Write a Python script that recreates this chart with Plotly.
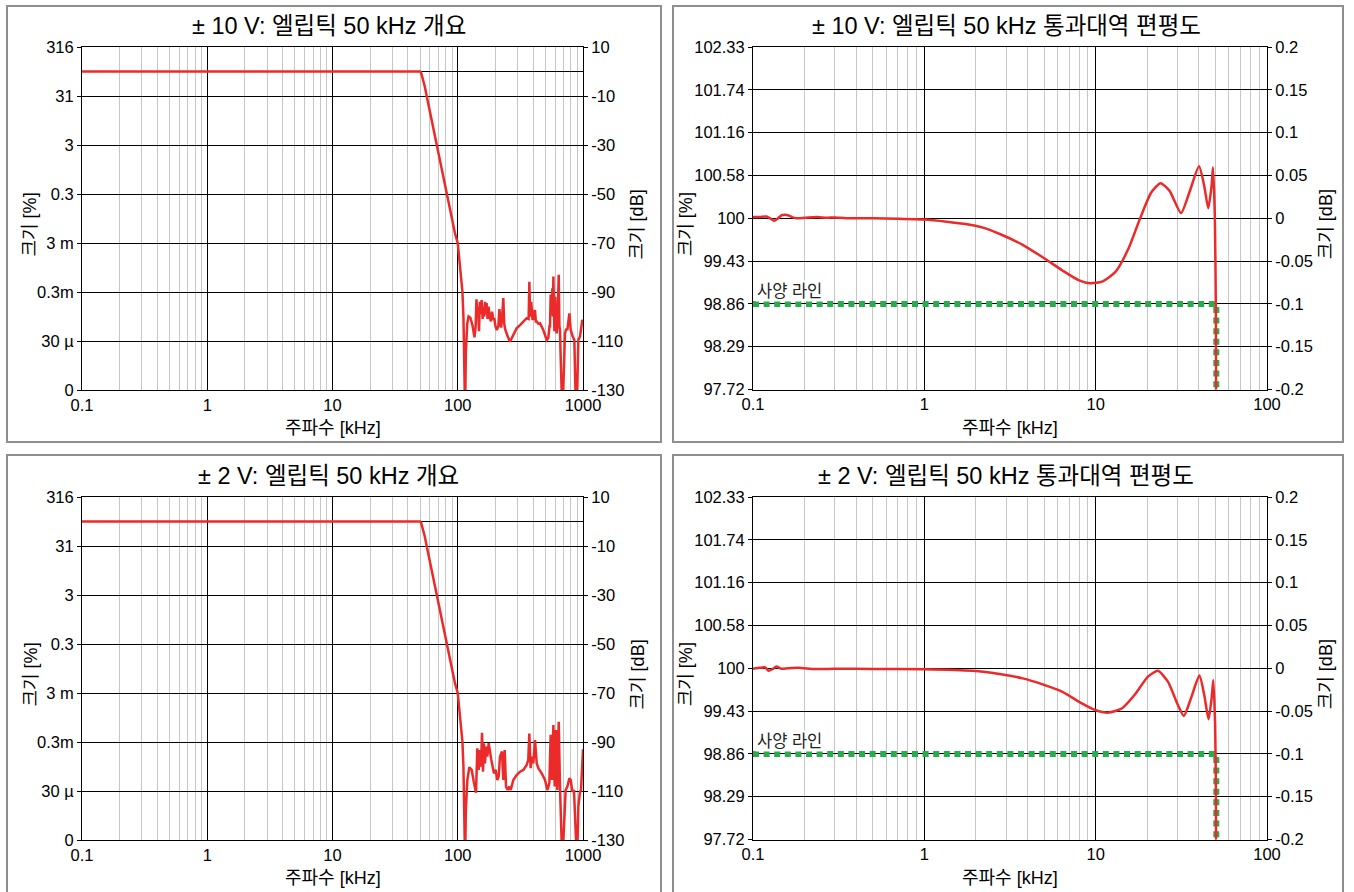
import math
import plotly.graph_objects as go

W, H = 1354, 892

# ---------------- data ----------------
ov_titles = ["± 10 V: 엘립틱 50 kHz 개요", "± 2 V: 엘립틱 50 kHz 개요"]
pb_titles = ["± 10 V: 엘립틱 50 kHz 통과대역 편평도", "± 2 V: 엘립틱 50 kHz 통과대역 편평도"]
x_title = "주파수 [kHz]"
y_left_title = "크기 [%]"
y_right_title = "크기 [dB]"
spec_label = "사양 라인"

ov_db_ticks = [10, -10, -30, -50, -70, -90, -110, -130]
ov_db_labels = ["10", "-10", "-30", "-50", "-70", "-90", "-110", "-130"]
ov_pct_labels = ["316", "31", "3", "0.3", "3 m", "0.3m", "30 µ", "0"]
ov_x_ticks = [0.1, 1, 10, 100, 1000]
ov_x_labels = ["0.1", "1", "10", "100", "1000"]

pb_db_ticks = [-0.2, -0.15, -0.1, -0.05, 0, 0.05, 0.1, 0.15, 0.2]
pb_db_labels = ["-0.2", "-0.15", "-0.1", "-0.05", "0", "0.05", "0.1", "0.15", "0.2"]
pb_pct_labels = ["97.72", "98.29", "98.86", "99.43", "100", "100.58", "101.16", "101.74", "102.33"]
pb_x_ticks = [0.1, 1, 10, 100]
pb_x_labels = ["0.1", "1", "10", "100"]

# overview, ±10 V (frequency kHz, magnitude dB)
ov10_f = [0.1, 50, 51, 52.5, 54.5, 56.5, 62, 70, 78, 83.5, 90, 95, 100, 105, 109, 111, 113, 114.5,
          116, 119, 122, 126, 131, 136, 139, 141, 143, 145, 147.8, 150, 153, 155, 158, 160, 163, 165,
          168, 170, 173, 176, 180, 184, 188, 192, 196, 200, 205, 211, 215, 218, 222, 227, 231, 235,
          240, 250, 261, 278, 295, 314, 334, 355, 368, 373, 378, 382, 386, 389, 395, 401, 407, 414,
          420, 427, 440, 454, 482, 513, 528, 540, 545, 552, 557, 562, 569, 575, 580, 586, 591, 597,
          601, 610, 617, 628, 640, 648, 655, 663, 671, 684, 690, 697, 718, 735, 750, 778, 798, 828,
          853, 866, 879, 901, 918, 946, 987, 1000]
ov10_db = [0, 0, -0.5, -2.5, -6, -10, -20, -33, -45, -52.4, -60.5, -66, -70, -80, -90, -100, -115, -140,
           -115, -103, -100, -100.5, -103.5, -108.5, -104, -93, -98, -96, -106, -94, -99, -93.3, -101, -96, -100, -94,
           -99, -94.5, -101, -96, -100, -102, -98, -101, -101, -104, -105.5, -104, -97, -101, -104.5, -99, -92.5, -103,
           -105.5, -108, -110.3, -107.5, -104.8, -103.5, -102, -100.7, -101, -85.8, -99, -100, -94, -98, -101, -101, -98, -97.5,
           -102, -102, -103, -102.8, -105.5, -109.6, -108.9, -104, -104, -91, -99, -98, -88.5, -100, -83.7, -99, -106, -100,
           -91.9, -105, -106.9, -100, -83, -104, -105.5, -116, -126, -140, -135, -128.6, -106.9, -105, -105.5, -98.7, -105.5, -108.2,
           -109.6, -125, -140, -128.6, -109.6, -108.2, -101.4, -102]

# overview, ±2 V
ov2_f = [0.1, 50, 51, 52.5, 54.5, 56.5, 62, 70, 78, 83.5, 90, 95, 100, 105, 109, 111, 113, 114.5,
         116, 119.3, 123.7, 129.2, 134, 139.9, 143.3, 146.9, 150.6, 153.3, 156.2, 159.1, 162, 165.1,
         168.1, 172.2, 176.6, 180.9, 185.3, 190, 194.5, 200.7, 206.9, 212.2, 217.4, 222.7, 225.5, 231.1,
         237, 242.9, 250.5, 258.2, 264.8, 277.8, 295.3, 314, 334, 355, 365.6, 372.6, 382, 391.7, 401,
         414, 427, 440, 467.8, 497.5, 519.4, 538.6, 552, 565.5, 580, 594.3, 608.4, 623.6, 640, 655,
         667, 684, 705, 727, 750, 778, 798, 822, 847, 874, 896, 918, 946, 964, 987, 1000]
ov2_db = [0, 0, -0.5, -2.5, -6, -10, -20, -33, -45, -52.4, -60.5, -66, -70, -80, -90, -100, -115, -140,
          -118, -105.5, -100.3, -101.4, -106, -110.7, -92.6, -101.4, -93.3, -100.1, -86.2, -102.1, -90.5, -98.7,
          -91.9, -96, -90.5, -94.6, -97.3, -100.1, -102.8, -101.4, -105.5, -104.1, -96, -94.6, -93.9, -105.5,
          -93.3, -108.2, -109.6, -108.2, -109.6, -105.5, -103.5, -102.1, -101.4, -99.4, -97.3, -86.5, -100.7, -96, -98.7,
          -89.2, -98.7, -100.7, -102.8, -105.5, -109.6, -106.9, -87.1, -105.5, -83.1, -108.2, -85.1, -109.6, -81.7, -108.2,
          -125.9, -140, -124.5, -109.6, -108.2, -104.8, -105.5, -110.3, -109.6, -127.3, -140, -116.4, -110.3, -109.6, -94.6, -93]

# passband flatness, ±10 V
pb10_f = [0.1, 0.11, 0.12, 0.128, 0.133, 0.14, 0.147, 0.16, 0.17, 0.18, 0.2, 0.235, 0.27, 0.3, 0.35,
          0.5, 0.7, 1.0, 1.35, 1.7, 2.2, 2.8, 3.75, 4.9, 6.4, 8.0, 9.3, 10.9, 13.0, 15.5, 18.1, 21.1,
          23.9, 27.0, 31.5, 35.2, 40.1, 43.0, 45.4, 47.5, 48.4, 49.6, 50.3, 50.6]
pb10_db = [0.0015, 0.0015, 0.002, -0.001, -0.003, 0.0, 0.0035, 0.0035, 0.001, 0.0, 0.0005, 0.0015, 0.0005, 0.001, 0.0,
           0.0, -0.0005, -0.0015, -0.004, -0.0065, -0.011, -0.019, -0.031, -0.0455, -0.061, -0.0725, -0.0759, -0.074,
           -0.063, -0.036, -0.001, 0.030, 0.041, 0.032, 0.006, 0.030, 0.0607, 0.038, 0.0117, 0.038, 0.0595, 0.003,
           -0.11, -0.3]

# passband flatness, ±2 V
pb2_f = [0.1, 0.11, 0.118, 0.123, 0.13, 0.137, 0.146, 0.16, 0.184, 0.23, 0.3, 0.5, 1.0, 1.9, 2.8, 3.75,
         4.9, 6.4, 8.3, 10.0, 11.9, 14.2, 16.9, 20.2, 23.1, 26.4, 30.2, 32.7, 36.0, 40.3, 43.0, 45.6,
         47.5, 48.6, 49.8, 50.3, 50.6]
pb2_db = [-0.0005, 0.0005, 0.001, -0.003, -0.001, 0.002, -0.0005, 0.0, 0.0005, -0.001, -0.0005, -0.0008, -0.0012,
          -0.003, -0.007, -0.0118, -0.0188, -0.0275, -0.041, -0.049, -0.0518, -0.047, -0.031, -0.0098, -0.003,
          -0.0157, -0.043, -0.0557, -0.035, -0.0086, -0.031, -0.0596, -0.035, -0.0137, -0.067, -0.14, -0.3]

# specification line
spec_f = [0.1, 50.6, 50.6]
spec_db = [-0.1, -0.1, -0.2]

# ---------------- styling ----------------
FONT = "Liberation Sans, Arial, Noto Sans CJK KR, sans-serif"
RED = "#ec2a2a"
GREEN = "#27ad4c"
MINOR = "#c6c6c6"
BOX = "#8f8f8f"


def fx(p):
    return p / W


def fy(p):
    return 1 - p / H


panels = [
    dict(kind="ov", n=1, xpx=(82, 583), ypx=(47, 390), box=(7, 6, 661, 442),
         f=ov10_f, d=ov10_db, title=ov_titles[0], ax_l=30, ax_r=637),
    dict(kind="pb", n=2, xpx=(753, 1267), ypx=(47, 389.5), box=(673, 6, 1343, 442),
         f=pb10_f, d=pb10_db, title=pb_titles[0], ax_l=686, ax_r=1326),
    dict(kind="ov", n=3, xpx=(82, 583), ypx=(497, 840), box=(7, 455, 661, 897),
         f=ov2_f, d=ov2_db, title=ov_titles[1], ax_l=30, ax_r=637),
    dict(kind="pb", n=4, xpx=(753, 1267), ypx=(497, 839.5), box=(673, 455, 1343, 897),
         f=pb2_f, d=pb2_db, title=pb_titles[1], ax_l=686, ax_r=1326),
]

fig = go.Figure()
layout = {}
shapes = []
annotations = []

for p in panels:
    n = p["n"]
    xa = "x" if n == 1 else f"x{n}"
    yb_i = 2 * n - 1
    yr_i = 2 * n
    yb = "y" if yb_i == 1 else f"y{yb_i}"
    yr = f"y{yr_i}"
    xkey = "xaxis" if n == 1 else f"xaxis{n}"
    ybkey = "yaxis" if yb_i == 1 else f"yaxis{yb_i}"
    yrkey = f"yaxis{yr_i}"

    if p["kind"] == "ov":
        xr = [math.log10(0.1), math.log10(1000)]
        xt, xl = ov_x_ticks, ov_x_labels
        yrng = [-130, 10]
        ytv, ylab_l, ylab_r = ov_db_ticks, ov_pct_labels, ov_db_labels
    else:
        xr = [math.log10(0.1), math.log10(100)]
        xt, xl = pb_x_ticks, pb_x_labels
        yrng = [-0.2, 0.2]
        ytv, ylab_l, ylab_r = pb_db_ticks, pb_pct_labels, pb_db_labels

    x0, x1 = p["xpx"]
    yt, ybt = p["ypx"]
    layout[xkey] = dict(
        type="log", range=xr, domain=[fx(x0), fx(x1)], anchor=yb, automargin=False,
        tickvals=xt, ticktext=xl, ticks="", showline=True, mirror=True,
        linecolor="black", linewidth=1, showgrid=True, gridcolor="black", gridwidth=1,
        minor=dict(dtick="D1", showgrid=True, gridcolor=MINOR, gridwidth=1.4, ticks=""),
        tickfont=dict(size=16.5, color="black", family=FONT), zeroline=False,
    )
    layout[ybkey] = dict(
        range=yrng, domain=[fy(ybt), fy(yt)], anchor=xa, tickvals=ytv, ticktext=ylab_l,
        automargin=False,
        ticks="outside", ticklen=4, tickcolor="black", showline=True, mirror=True,
        linecolor="black", linewidth=1, showgrid=True, gridcolor="black", gridwidth=1,
        zeroline=True, zerolinecolor="black", zerolinewidth=1,
        tickfont=dict(size=16.5, color="black", family=FONT),
    )
    layout[yrkey] = dict(
        range=yrng, overlaying=yb, side="right", anchor=xa, tickvals=ytv, ticktext=ylab_r,
        automargin=False,
        ticks="outside", ticklen=4, tickcolor="black", showline=True, linecolor="black",
        linewidth=1, showgrid=False, zeroline=False,
        tickfont=dict(size=16.5, color="black", family=FONT),
    )

    # traces
    if p["kind"] == "pb":
        fig.add_trace(go.Scatter(x=spec_f, y=spec_db, xaxis=xa, yaxis=yb, mode="lines",
                                 line=dict(color=GREEN, width=6, dash="6px,4.6px"),
                                 hoverinfo="skip", showlegend=False))
        fig.add_trace(go.Scatter(x=p["f"], y=p["d"], xaxis=xa, yaxis=yb, mode="lines",
                                 line=dict(color=RED, width=2.5, shape="spline", smoothing=0.6),
                                 showlegend=False))
    else:
        fig.add_trace(go.Scatter(x=p["f"], y=p["d"], xaxis=xa, yaxis=yb, mode="lines",
                                 line=dict(color=RED, width=2.5), showlegend=False))
    # empty trace to register the right-hand axis
    fig.add_trace(go.Scatter(x=[], y=[], xaxis=xa, yaxis=yr, mode="lines",
                             showlegend=False, hoverinfo="skip"))

    # panel frame
    bx0, by0, bx1, by1 = p["box"]
    shapes.append(dict(type="rect", xref="paper", yref="paper",
                       x0=fx(bx0), x1=fx(bx1), y0=fy(by1), y1=fy(by0),
                       line=dict(color=BOX, width=2), fillcolor="rgba(0,0,0,0)", layer="below"))

    cx = (x0 + x1) / 2
    cy = (yt + ybt) / 2 + 6
    annotations.append(dict(text=p["title"], x=fx(cx - 4), y=fy(yt - 21), xref="paper", yref="paper",
                            showarrow=False, xanchor="center", yanchor="middle",
                            font=dict(size=23.5, color="black", family=FONT)))
    annotations.append(dict(text=x_title, x=fx(cx), y=fy(ybt + 38), xref="paper", yref="paper",
                            showarrow=False, xanchor="center", yanchor="middle",
                            font=dict(size=18, color="black", family=FONT)))
    annotations.append(dict(text=y_left_title, x=fx(p["ax_l"]), y=fy(cy), xref="paper", yref="paper",
                            showarrow=False, xanchor="center", yanchor="middle", textangle=-90,
                            font=dict(size=18, color="black", family=FONT)))
    annotations.append(dict(text=y_right_title, x=fx(p["ax_r"]), y=fy(cy), xref="paper", yref="paper",
                            showarrow=False, xanchor="center", yanchor="middle", textangle=-90,
                            font=dict(size=18, color="black", family=FONT)))
    if p["kind"] == "pb":
        annotations.append(dict(text=spec_label, x=math.log10(spec_f[0]), y=spec_db[0], xref=xa, yref=yb,
                                xshift=2, yshift=13, showarrow=False, xanchor="left",
                                yanchor="middle", bgcolor="white", borderpad=1,
                                font=dict(size=16.5, color="#222222", family=FONT)))

fig.update_layout(
    width=W, height=H, margin=dict(l=0, r=0, t=0, b=0, pad=0, autoexpand=False),
    paper_bgcolor="white", plot_bgcolor="white",
    font=dict(family=FONT, color="black"),
    shapes=shapes, annotations=annotations, showlegend=False,
    **layout,
)

fig.write_html(
    "out.html",
    config={"displayModeBar": False},
    post_script="document.body.style.margin='0px'; document.body.style.overflow='hidden';",
)
